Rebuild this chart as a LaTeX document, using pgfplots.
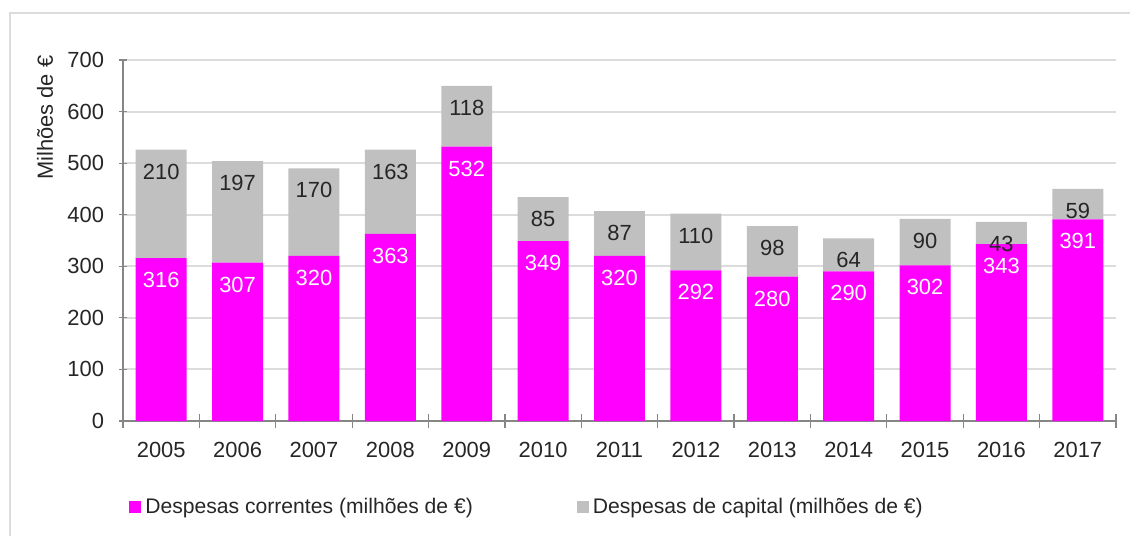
\documentclass[border=0pt]{standalone}
\usepackage{pgfplots}
\pgfplotsset{compat=1.18}
\usepackage{pgfplotstable}
\usepackage{fontspec}
\setmainfont{Liberation Sans}
\definecolor{cur}{HTML}{FF00FF}
\definecolor{cap}{HTML}{C0C0C0}
\definecolor{txt}{HTML}{262626}
\definecolor{gridc}{HTML}{DCDCDC}
\definecolor{axc}{HTML}{868686}
\pgfplotstableread{
x year cur cap
0 2005 316 210
1 2006 307 197
2 2007 320 170
3 2008 363 163
4 2009 532 118
5 2010 349 85
6 2011 320 87
7 2012 292 110
8 2013 280 98
9 2014 290 64
10 2015 302 90
11 2016 343 43
12 2017 391 59
}\data
\begin{document}
\begin{tikzpicture}
\useasboundingbox (0,0) rectangle (565bp,268bp);
\draw[color=gridc, line width=1.2bp] (5bp,-20bp) |- (620bp,261.5bp);
\begin{axis}[
  at={(61.5bp,57.5bp)}, anchor=south west,
  scale only axis, width=496.5bp, height=180.5bp,
  font=\fontsize{11}{13}\selectfont\color{txt},
  /pgf/number format/assume math mode=true,
  ybar stacked, bar width=0.667,
  xmin=-0.5, xmax=12.5, ymin=0, ymax=700,
  xtick={0,...,12},
  xticklabels={2005,2006,2007,2008,2009,2010,2011,2012,2013,2014,2015,2016,2017},
  major x tick style={draw=none},
  minor xtick={-0.5,0.5,...,12.5},
  minor x tick style={draw=axc, line width=0.6bp},
  minor tick length=7bp,
  ytick={0,100,...,700},
  major y tick style={draw=axc, line width=0.6bp},
  major tick length=4bp,
  tick align=center,
  axis x line*=bottom, axis y line*=left,
  axis line style={draw=axc, line width=0.7bp, -},
  ymajorgrids, grid style={draw=gridc, line width=1bp},
  xticklabel style={yshift=-5bp},
  yticklabel style={xshift=-4bp},
  ylabel={Milhões de €},
  ylabel style={at={(axis description cs:-0.0786,0.84)}, anchor=center},
  legend columns=2,
  legend style={at={(axis description cs:0,-0.238)}, anchor=west, draw=none, fill=none,
    font=\fontsize{10.6}{13}\selectfont\color{txt},
    /tikz/every even column/.append style={column sep=50bp}},
  legend image code/.code={\fill[#1] (0bp,-3bp) rectangle (6bp,3bp);},
  nodes near coords,
  point meta=explicit,
  every node near coord/.append style={anchor=center, yshift={\segv*0.128929bp-11bp}, font=\fontsize{11}{13}\selectfont},
]
\addplot[fill=cur, draw=none, nodes near coords style={text=white},
  visualization depends on={\thisrow{cur} \as \segv}] table[x=x, y=cur, meta=cur] {\data};
\addlegendentry{Despesas correntes (milhões de €)}
\addplot[fill=cap, draw=none, nodes near coords style={text=txt},
  visualization depends on={\thisrow{cap} \as \segv}] table[x=x, y=cap, meta=cap] {\data};
\addlegendentry{Despesas de capital (milhões de €)}
\end{axis}
\end{tikzpicture}
\end{document}
